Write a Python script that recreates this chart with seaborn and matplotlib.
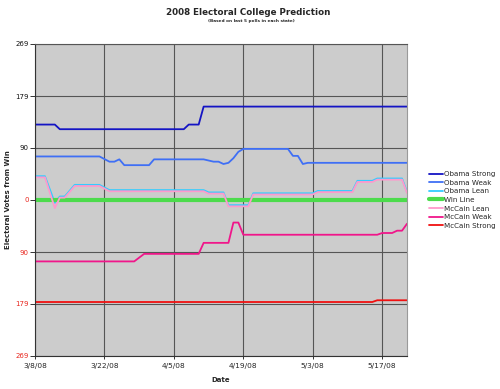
import pandas as pd
import matplotlib.pyplot as plt
import seaborn as sns

# Start date of the chart; every series is given as days after it
START = pd.Timestamp("2008-03-08")
END_DAY = 75

# Electoral votes from win (positive = Obama side, negative = McCain side)
obama_strong_days = [0, 4, 5, 30, 31, 33, 34, 75]
obama_strong = [130, 130, 122, 122, 130, 130, 161, 161]

obama_weak_days = [0, 13, 15, 16, 17, 18, 23, 24, 34, 36, 37, 38, 39, 40, 41, 42, 51, 52, 53, 54, 55, 75]
obama_weak = [75, 75, 66, 66, 70, 60, 60, 70, 70, 66, 66, 62, 64, 72, 83, 88, 88, 76, 76, 62, 64, 64]

obama_lean_days = [0, 2, 4, 5, 6, 8, 13, 15, 34, 35, 38, 39, 43, 44, 56, 57, 64, 65, 68, 69, 74, 75]
obama_lean = [41, 41, -5, 6, 6, 26, 26, 17, 17, 13, 13, -9, -9, 11.5, 11.5, 15.5, 15.5, 33, 33, 37, 37, 14]

win_line_days = [0, 75]
win_line = [0, 0]

mccain_lean_days = [0, 2, 4, 5, 6, 8, 13, 15, 34, 35, 38, 39, 43, 44, 56, 57, 64, 65, 68, 69, 74, 75]
mccain_lean = [39, 39, -14, 4, 4, 24, 24, 15, 15, 11, 11, -11, -11, 9.5, 9.5, 13.5, 13.5, 31, 31, 35, 35, 12]

mccain_weak_days = [0, 20, 22, 33, 34, 39, 40, 41, 42, 69, 70, 72, 73, 74, 75]
mccain_weak = [-106, -106, -93, -93, -74, -74, -39, -39, -60, -60, -57, -57, -53, -53, -41]

mccain_strong_days = [0, 68, 69, 75]
mccain_strong = [-176, -176, -173, -173]

y_ticks = [-269, -179, -90, 0, 90, 179, 269]
x_tick_dates = ["2008-03-08", "2008-03-22", "2008-04-05", "2008-04-19", "2008-05-03", "2008-05-17"]
x_tick_labels = ["3/8/08", "3/22/08", "4/5/08", "4/19/08", "5/3/08", "5/17/08"]

series = [
    ("Obama Strong", obama_strong_days, obama_strong, "#1414C4", 1.3),
    ("Obama Weak", obama_weak_days, obama_weak, "#3F6FF5", 1.3),
    ("Obama Lean", obama_lean_days, obama_lean, "#33CCFF", 1.3),
    ("Win Line", win_line_days, win_line, "#4CDB4C", 3.0),
    ("McCain Lean", mccain_lean_days, mccain_lean, "#FF99CC", 1.3),
    ("McCain Weak", mccain_weak_days, mccain_weak, "#F0168A", 1.3),
    ("McCain Strong", mccain_strong_days, mccain_strong, "#F01010", 1.3),
]

sns.set_theme(style="ticks", rc={"axes.facecolor": "#CCCCCC"})
plt.rcParams["font.family"] = ["DejaVu Sans"]

fig = plt.figure(figsize=(5, 3.89), dpi=100)
ax = fig.add_axes([0.07, 0.085, 0.744, 0.802])

for name, days, vals, color, lw in series:
    df = pd.DataFrame({"date": START + pd.to_timedelta(days, unit="D"), "votes": vals})
    sns.lineplot(data=df, x="date", y="votes", ax=ax, color=color, lw=lw, label=name)

handles, labels = ax.get_legend_handles_labels()
if ax.get_legend() is not None:
    ax.get_legend().remove()

ax.set_xlim(START, START + pd.Timedelta(days=END_DAY))
ax.set_ylim(-269, 269)
ax.set_yticks(y_ticks)
ax.set_yticklabels([str(abs(v)) for v in y_ticks], fontsize=5)
for lab, v in zip(ax.get_yticklabels(), y_ticks):
    lab.set_color("#111111" if v > 0 else "#E8261E")
ax.set_xticks(pd.to_datetime(x_tick_dates))
ax.set_xticklabels(x_tick_labels, fontsize=5.3)
ax.tick_params(axis="y", length=3.5, width=0.7, pad=1, color="#333333")
ax.tick_params(axis="x", length=2.4, width=0.7, pad=2.5, color="#333333")

ax.grid(True, color="#555555", lw=0.8)
ax.set_axisbelow(True)
for side in ["left", "bottom"]:
    ax.spines[side].set_color("#333333")
    ax.spines[side].set_linewidth(0.8)
ax.spines["top"].set_color("#555555")
ax.spines["top"].set_linewidth(0.8)
ax.spines["right"].set_color("#9A9A9A")
ax.spines["right"].set_linewidth(0.8)

ax.set_xlabel("")
ax.set_ylabel("")
fig.text(0.442, 0.023, "Date", ha="center", va="center", fontsize=5, fontweight="bold")
fig.text(0.016, 0.486, "Electoral Votes from Win", ha="center", va="center",
         rotation=90, fontsize=5, fontweight="bold")
fig.text(0.496, 0.969, "2008 Electoral College Prediction", ha="center", va="center",
         fontsize=6.3, fontweight="bold")
fig.text(0.503, 0.947, "(Based on last 5 polls in each state)", ha="center", va="center",
         fontsize=3.1, fontweight="bold")

fig.legend(handles, labels, loc="center left", bbox_to_anchor=(0.852, 0.486),
           frameon=False, fontsize=5.1, handlelength=2.0, handletextpad=0.2,
           labelspacing=0.37, borderaxespad=0)

fig.savefig("out.png", dpi=100)
